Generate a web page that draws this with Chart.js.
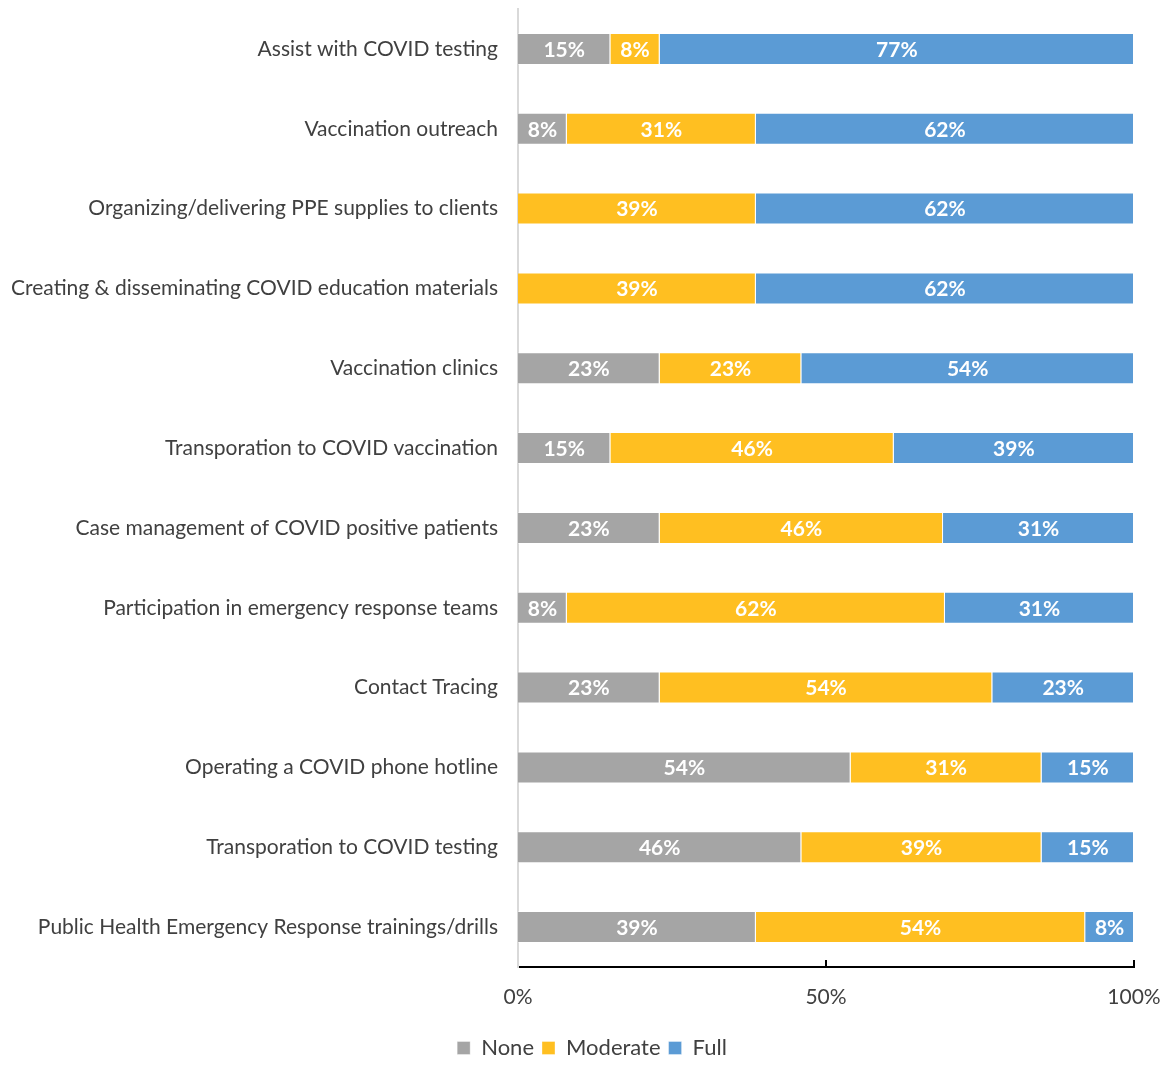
<!DOCTYPE html>
<html>
<head>
<meta charset="utf-8">
<script src="https://cdn.jsdelivr.net/npm/chart.js@4"></script>
<style>
  html, body { margin: 0; padding: 0; background: #fff; }
  #wrap { width: 1170px; height: 1067px; }
</style>
</head>
<body>
<div id="wrap"><canvas id="chart"></canvas></div>
<script>
// Activities (top to bottom)
const activities = [
  "Assist with COVID testing",
  "Vaccination outreach",
  "Organizing/delivering PPE supplies to clients",
  "Creating & disseminating COVID education materials",
  "Vaccination clinics",
  "Transporation to COVID vaccination",
  "Case management of COVID positive patients",
  "Participation in emergency response teams",
  "Contact Tracing",
  "Operating a COVID phone hotline",
  "Transporation to COVID testing",
  "Public Health Emergency Response trainings/drills"
];

// Percent shown on each segment
const nonePct     = [15, 8, 0, 0, 23, 15, 23, 8, 23, 54, 46, 39];
const moderatePct = [8, 31, 39, 39, 23, 46, 46, 62, 54, 31, 39, 54];
const fullPct     = [77, 62, 62, 62, 54, 39, 31, 31, 23, 15, 15, 8];

const xTicks = [0, 50, 100];

const colors = { none: "#A5A5A5", moderate: "#FFBF21", full: "#5B9BD5" };
const FONT = "Lato, 'Open Sans', sans-serif";

// 100% stacked: scale each row to its total
const totals = activities.map((_, i) => nonePct[i] + moderatePct[i] + fullPct[i]);
const share = arr => arr.map((v, i) => v / totals[i] * 100);

const datasets = [
  { label: "None", raw: nonePct, data: share(nonePct), backgroundColor: colors.none },
  { label: "Moderate", raw: moderatePct, data: share(moderatePct), backgroundColor: colors.moderate },
  { label: "Full", raw: fullPct, data: share(fullPct), backgroundColor: colors.full }
].map(d => Object.assign(d, {
  borderColor: "rgba(255,255,255,0.35)",
  borderWidth: 1,
  barPercentage: 0.4,
  categoryPercentage: 1.0
}));

// white percent labels in the middle of each segment
const segmentLabels = {
  id: "segmentLabels",
  afterDatasetsDraw(chart) {
    const ctx = chart.ctx;
    ctx.save();
    ctx.fillStyle = "#ffffff";
    ctx.font = "bold 21px " + FONT;
    ctx.textAlign = "center";
    ctx.textBaseline = "middle";
    chart.data.datasets.forEach((ds, di) => {
      chart.getDatasetMeta(di).data.forEach((bar, i) => {
        const v = ds.raw[i];
        if (!v) return;
        const cx = (bar.x + bar.base) / 2;
        ctx.fillText(v + "%", cx, bar.y + 1);
      });
    });
    ctx.restore();
  }
};

// short tick marks pointing up from the x axis
const axisTicks = {
  id: "axisTicks",
  afterDraw(chart) {
    const ctx = chart.ctx;
    const x = chart.scales.x;
    const bottom = chart.chartArea.bottom;
    ctx.save();
    ctx.strokeStyle = "#000";
    ctx.lineWidth = 2;
    xTicks.slice(1).forEach(t => {
      const px = Math.round(x.getPixelForValue(t));
      ctx.beginPath();
      ctx.moveTo(px, bottom - 7);
      ctx.lineTo(px, bottom);
      ctx.stroke();
    });
    ctx.restore();
  }
};

// nudge the legend a little right and down
const legendShift = {
  id: "legendShift",
  afterLayout(chart) {
    const lg = chart.legend;
    if (!lg) return;
    lg.left += 25; lg.right += 25;
    lg.top += 3; lg.bottom += 3;
  }
};

new Chart(document.getElementById("chart"), {
  type: "bar",
  data: { labels: activities, datasets },
  plugins: [segmentLabels, axisTicks, legendShift],
  options: {
    indexAxis: "y",
    responsive: true,
    maintainAspectRatio: false,
    animation: false,
    layout: { padding: { top: 9, right: 36, left: 0, bottom: 1 } },
    scales: {
      x: {
        stacked: true,
        min: 0,
        max: 100,
        afterBuildTicks: s => { s.ticks = xTicks.map(v => ({ value: v })); },
        afterFit: s => {
          s.height = 59;
          s.paddingLeft = 0;
          s.paddingRight = 0;
        },
        grid: { display: false, drawTicks: false },
        border: { display: true, color: "#000", width: 2 },
        ticks: {
          padding: 18,
          color: "#404040",
          font: { family: FONT, size: 21 },
          callback: v => v + "%"
        }
      },
      y: {
        stacked: true,
        afterFit: s => {
          s.width = 518;
          s.paddingTop = 0;
          s.paddingBottom = 0;
        },
        grid: { display: false, drawTicks: false },
        border: { display: true, color: "#D9D9D9", width: 2 },
        ticks: {
          padding: 20,
          color: "#404040",
          font: { family: FONT, size: 21 }
        }
      }
    },
    plugins: {
      legend: {
        position: "bottom",
        labels: {
          boxWidth: 13,
          boxHeight: 13,
          padding: 8,
          color: "#404040",
          font: { family: FONT, size: 22 }
        }
      },
      tooltip: { enabled: false }
    }
  }
});
</script>
</body>
</html>
